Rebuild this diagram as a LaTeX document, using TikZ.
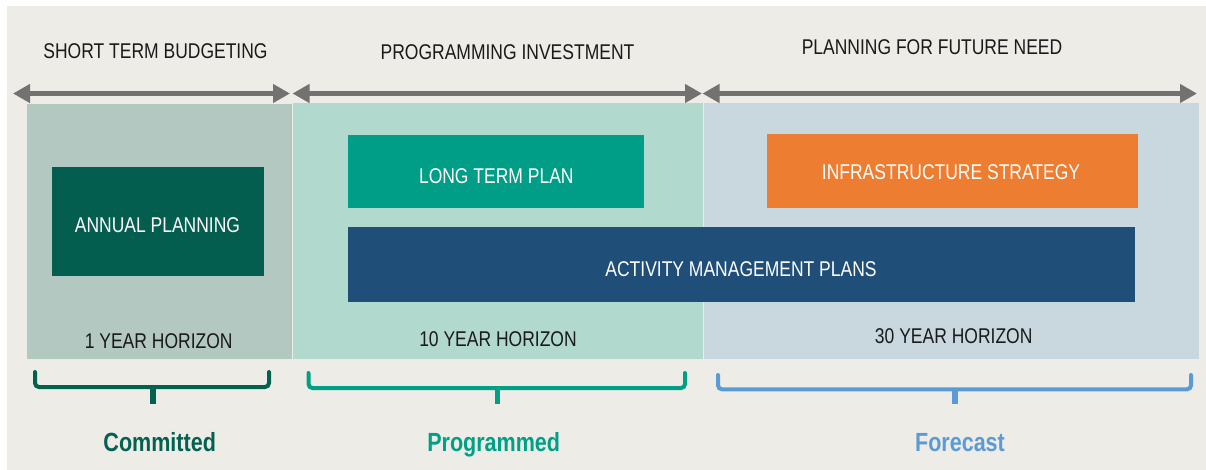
\documentclass[tikz,border=0pt]{standalone}
\usepackage{fontspec}
\setmainfont[FakeStretch=0.82]{Liberation Sans}
\usetikzlibrary{arrows.meta}
\definecolor{bg}{HTML}{EDECE7}
\definecolor{pone}{HTML}{B2C8C0}
\definecolor{ptwo}{HTML}{B2D9CE}
\definecolor{pthree}{HTML}{C9D7DF}
\definecolor{annual}{HTML}{035E50}
\definecolor{ltp}{HTML}{009E87}
\definecolor{infra}{HTML}{ED7D31}
\definecolor{amp}{HTML}{1F4E79}
\definecolor{arrgray}{HTML}{767171}
\definecolor{ccommit}{HTML}{03614F}
\definecolor{cprog}{HTML}{00A086}
\definecolor{cfore}{HTML}{5B9BD5}
\definecolor{txt}{HTML}{1A1A1A}
\tikzset{
  x=0.75pt, y=-0.75pt,
  block/.style={rectangle, inner sep=0pt, draw=none},
  lbl/.style={anchor=base, inner sep=0pt, font=\fontsize{16}{18}\selectfont, text=txt},
  wlbl/.style={lbl, text=white},
  blbl/.style={anchor=base, inner sep=0pt, font=\fontsize{19.7}{22}\selectfont\bfseries},
  harrow/.style={draw=arrgray, line width=3.75pt,
    {Triangle[length=12.75pt,width=13.5pt]}-{Triangle[length=12.75pt,width=13.5pt]}},
  bracepath/.style={line width=3pt, rounded corners=3pt, line cap=round},
  bracetick/.style={line width=3.9pt},
}
\begin{document}
\begin{tikzpicture}
\useasboundingbox (0,0) rectangle (1206,470);
\fill[white] (0,0) rectangle (1206,470);
\fill[bg] (7,6) rectangle (1206,470);

% panels
\node[block, fill=pone, minimum width=265*0.75pt, minimum height=255*0.75pt, anchor=north west] (p1) at (27,103.5) {};
\node[block, fill=ptwo, minimum width=410*0.75pt, minimum height=255.5*0.75pt, anchor=north west] (p2) at (293,103) {};
\node[block, fill=pthree, minimum width=495.5*0.75pt, minimum height=255.5*0.75pt, anchor=north west] (p3) at (703.5,103) {};

% header arrows
\coordinate (a1l) at (13,93.5);
\coordinate (a1r) at (290,93.5);
\coordinate (a2l) at (292.5,93.5);
\coordinate (a2r) at (702,93.5);
\coordinate (a3l) at (702.5,93.5);
\coordinate (a3r) at (1197,93.5);
\draw[harrow] (a1l) -- (a1r);
\draw[harrow] (a2l) -- (a2r);
\draw[harrow] (a3l) -- (a3r);

% header labels
\node[lbl] (h1) at (155.5,58.5) {SHORT TERM BUDGETING};
\node[lbl] (h2) at (507.5,59.5) {PROGRAMMING INVESTMENT};
\node[lbl] (h3) at (932,54.5) {PLANNING FOR FUTURE NEED};

% blocks
\node[block, fill=annual, minimum width=212*0.75pt, minimum height=109*0.75pt, anchor=north west] (ap) at (52,166.7) {};
\node[block, fill=ltp, minimum width=296*0.75pt, minimum height=73*0.75pt, anchor=north west] (lt) at (348,135) {};
\node[block, fill=infra, minimum width=371*0.75pt, minimum height=74*0.75pt, anchor=north west] (is) at (766.3,134) {};
\node[block, fill=amp, minimum width=787*0.75pt, minimum height=74.7*0.75pt, anchor=north west] (am) at (348,227) {};

\node[wlbl] (apt) at (157.5,232.7) {ANNUAL PLANNING};
\node[wlbl] (ltt) at (496.3,183.3) {LONG TERM PLAN};
\node[wlbl] (ist) at (951,179.3) {INFRASTRUCTURE STRATEGY};
\node[wlbl] (amt) at (741,276.7) {ACTIVITY MANAGEMENT PLANS};

% horizons
\node[lbl] (y1) at (158.7,348.7) {1 YEAR HORIZON};
\node[lbl] (y10) at (498,346.7) {10 YEAR HORIZON};
\node[lbl] (y30) at (953.7,343.3) {30 YEAR HORIZON};

% braces
\coordinate (c1a) at (35,372);   \coordinate (c1b) at (269,372);
\coordinate (c1m) at (153,387);  \coordinate (c1t) at (153,403.5);
\coordinate (c2a) at (308.5,373); \coordinate (c2b) at (685,373);
\coordinate (c2m) at (497.7,388); \coordinate (c2t) at (497.7,404);
\coordinate (c3a) at (718,375);  \coordinate (c3b) at (1191,375);
\coordinate (c3m) at (955,389.3); \coordinate (c3t) at (955,403.5);

\draw[bracepath, draw=ccommit] (c1a) |- (c1m) -| (c1b);
\draw[bracetick, draw=ccommit] (c1m) -- (c1t);
\draw[bracepath, draw=cprog] (c2a) |- (c2m) -| (c2b);
\draw[bracetick, draw=cprog] (c2m) -- (c2t);
\draw[bracepath, draw=cfore] (c3a) |- (c3m) -| (c3b);
\draw[bracetick, draw=cfore] (c3m) -- (c3t);

% bottom labels
\node[blbl, text=ccommit] (lc) at (159.7,451) {Committed};
\node[blbl, text=cprog] (lp) at (493.7,451.5) {Programmed};
\node[blbl, text=cfore] (lf) at (960,451) {Forecast};
\end{tikzpicture}
\end{document}
